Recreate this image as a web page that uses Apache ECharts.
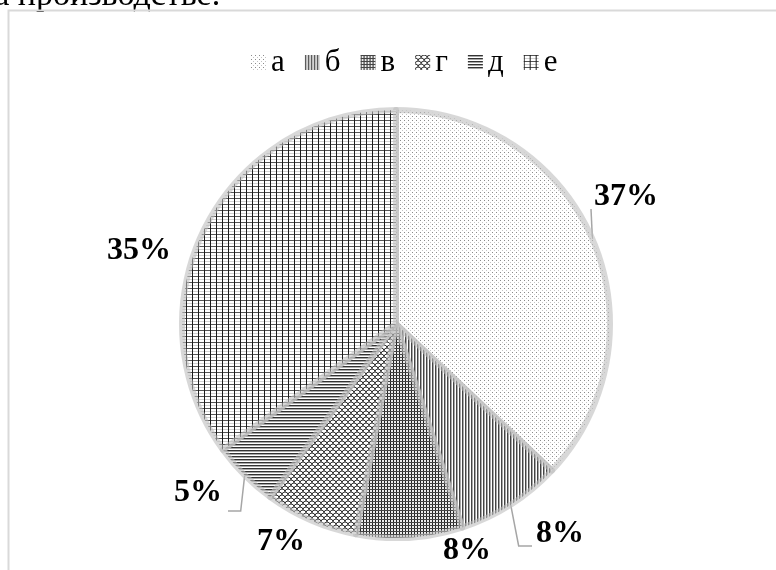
<!DOCTYPE html>
<html>
<head>
<meta charset="utf-8">
<script src="https://cdn.jsdelivr.net/npm/echarts@6/dist/echarts.min.js"></script>
<style>
  html, body { margin: 0; padding: 0; background: #fff; }
  #chart { width: 776px; height: 570px; }
</style>
</head>
<body>
<div id="chart"></div>
<script>
// Shares of the six groups, in percent
const categories = ['а', 'б', 'в', 'г', 'д', 'е'];
const shares = [37, 8, 8, 7, 5, 35];

// Label placement (centre of each percentage label)
const labelCentres = [[626, 197], [560, 534], [467, 551], [281, 542], [198, 493], [139, 251]];
// Which labels carry a leader line
const leaderLines = [true, true, false, false, true, false];

// ---- hatch fills -------------------------------------------------------
function tile(w, h, draw) {
  const c = document.createElement('canvas');
  c.width = w; c.height = h;
  const ctx = c.getContext('2d');
  ctx.fillStyle = '#fff';
  ctx.fillRect(0, 0, w, h);
  draw(ctx);
  return { image: c, repeat: 'repeat' };
}
const fills = [
  // dotted
  tile(4, 4, ctx => {
    ctx.fillStyle = '#8a8a8a'; ctx.fillRect(0, 0, 1, 1);
    ctx.fillStyle = '#c4c4c4'; ctx.fillRect(2, 2, 1, 1);
  }),
  // vertical lines
  tile(3, 1, ctx => {
    ctx.fillStyle = '#444'; ctx.fillRect(0, 0, 1, 1);
    ctx.fillStyle = '#a8a8a8'; ctx.fillRect(1, 0, 1, 1);
  }),
  // fine grid
  tile(3, 3, ctx => {
    ctx.fillStyle = '#bdbdbd'; ctx.fillRect(0, 0, 3, 3);
    ctx.fillStyle = '#ececec'; ctx.fillRect(1, 1, 2, 2);
    ctx.fillStyle = '#222'; ctx.fillRect(0, 0, 1, 3);
    ctx.fillStyle = '#444'; ctx.fillRect(0, 0, 3, 1);
  }),
  // scales
  tile(6, 6, ctx => {
    ctx.strokeStyle = '#333'; ctx.lineWidth = 1;
    ctx.beginPath(); ctx.arc(3, 3, 3, Math.PI, 2 * Math.PI); ctx.stroke();
    ctx.beginPath(); ctx.arc(0, 6, 3, Math.PI, 2 * Math.PI); ctx.stroke();
    ctx.beginPath(); ctx.arc(6, 6, 3, Math.PI, 2 * Math.PI); ctx.stroke();
  }),
  // horizontal lines
  tile(1, 3, ctx => {
    ctx.fillStyle = '#333'; ctx.fillRect(0, 0, 1, 1);
    ctx.fillStyle = '#a8a8a8'; ctx.fillRect(0, 1, 1, 1);
  }),
  // coarse grid
  tile(6, 6, ctx => {
    ctx.fillStyle = '#d0d0d0'; ctx.fillRect(0, 3, 6, 1);
    ctx.fillStyle = '#555'; ctx.fillRect(0, 0, 6, 1);
    ctx.fillStyle = '#1a1a1a'; ctx.fillRect(0, 0, 1, 6);
  })
];

const chart = echarts.init(document.getElementById('chart'), null, { renderer: 'canvas' });

const option = {
  animation: false,
  backgroundColor: '#fff',
  graphic: [
    {
      type: 'text',
      left: -24, top: -21,
      style: { text: 'на производстве.', font: '34px "Liberation Serif"', fill: '#000' }
    },
    {
      type: 'rect',
      shape: { x: 8.5, y: 10.5, width: 1000, height: 1000 },
      style: { fill: 'none', stroke: '#d9d9d9', lineWidth: 2 },
      silent: true
    }
  ],
  legend: {
    top: 42,
    left: 246,
    icon: 'rect',
    itemWidth: 15,
    itemHeight: 15,
    itemGap: 20,
    itemStyle: { borderWidth: 0 },
    textStyle: { fontFamily: 'Liberation Serif', fontSize: 31, color: '#000', padding: [6, 0, 0, 0] },
    data: categories
  },
  series: [{
    type: 'pie',
    center: [396, 324],
    radius: 214,
    startAngle: 90,
    clockwise: true,
    avoidLabelOverlap: false,
    itemStyle: { borderColor: 'rgba(190,190,190,0.6)', borderWidth: 6 },
    label: {
      show: true,
      position: 'outside',
      formatter: '{d}%',
      fontFamily: 'Liberation Serif',
      fontWeight: 'bold',
      fontSize: 32,
      color: '#000'
    },
    labelLine: { show: true, lineStyle: { color: '#a6a6a6', width: 1.5 } },
    labelLayout: function (params) {
      const i = params.dataIndex;
      const c = labelCentres[i];
      const w = params.labelRect.width, h = params.labelRect.height;
      const res = { x: c[0], y: c[1], align: 'center', verticalAlign: 'middle' };
      const p0 = params.labelLinePoints ? params.labelLinePoints[0] : null;
      if (p0 && leaderLines[i]) {
        const left = c[0] - w / 2, right = c[0] + w / 2, bottom = c[1] + h / 2;
        if (i === 0) {
          res.labelLinePoints = [p0, [left - 3, c[1] + 12], [left - 3, c[1] + 12]];
        } else if (i === 1) {
          res.labelLinePoints = [p0, [p0[0] + 8, bottom - 4], [left - 4, bottom - 4]];
        } else {
          res.labelLinePoints = [p0, [p0[0] - 4, bottom + 2], [right + 6, bottom + 2]];
        }
      }
      return res;
    },
    emphasis: { disabled: true },
    data: categories.map((name, i) => ({
      name: name,
      value: shares[i],
      itemStyle: { color: fills[i] },
      labelLine: { show: leaderLines[i] }
    }))
  }]
};

chart.setOption(option);
</script>
</body>
</html>
